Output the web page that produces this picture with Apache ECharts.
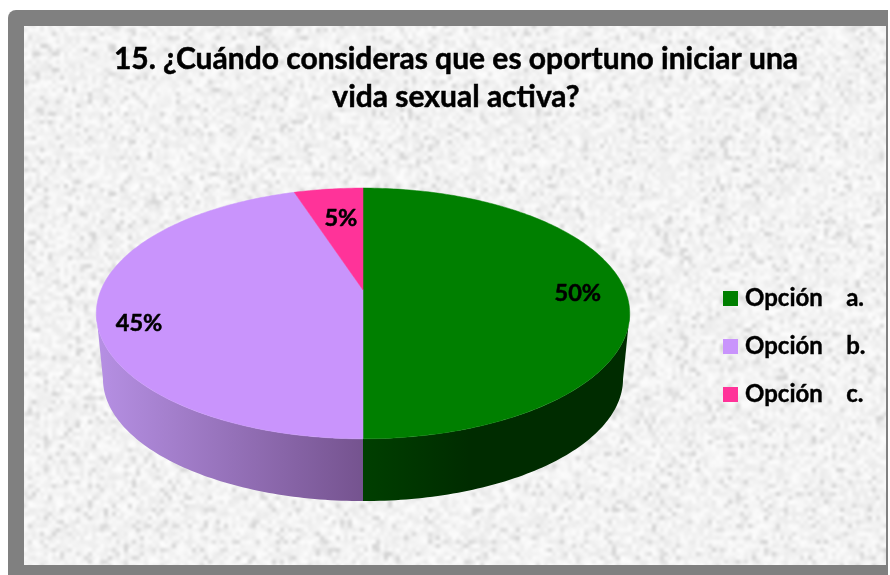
<!DOCTYPE html>
<html>
<head>
<meta charset="utf-8">
<script src="https://cdn.jsdelivr.net/npm/echarts@6/dist/echarts.min.js"></script>
<style>html,body{margin:0;padding:0;background:#fff}#c{width:890px;height:575px}</style>
</head>
<body>
<div id="c"></div>
<script>
const categories = ['Opción    a.', 'Opción    b.', 'Opción    c.'];
const values = [50, 45, 5];
const titleText = '15. ¿Cuándo consideras que es oportuno iniciar una\nvida sexual activa?';

const colors = ['#007f00', '#c994fc', '#ff3399'];
const wallStops = [['#003f00', '#002c00'], ['#75538f', '#b690e4'], ['#8f1f5c', '#8f1f5c']];

// perspective disc model
const HUB_X = 363, HUB_Y = 290, A = 262, B = 121, K = 0.187;
const LOW_Y = 356, LOW_S = 0.975, SIL = 100.8;
const labelFrac = [[0.82, 0.0, 3], [0.84, 0.84, 17], [0.64, 0.71, 0]];

function project(deg, hy, s) {
  const t = deg * Math.PI / 180, u = Math.sin(t), v = Math.cos(t), w = 1 + K * v;
  return [HUB_X + s * A * u / w, hy - s * B * v / w];
}
function arc(a0, a1, hy, s) {
  const pts = [], n = Math.max(2, Math.ceil(Math.abs(a1 - a0)));
  for (let i = 0; i <= n; i++) pts.push(project(a0 + (a1 - a0) * i / n, hy, s));
  return pts;
}
const total = values.reduce((a, b) => a + b, 0);
function sliceAngles(i) {
  let s = 0;
  for (let j = 0; j < i; j++) s += values[j];
  return [s / total * 360, (s + values[i]) / total * 360];
}

function makeTexture() {
  const S = 225, c = document.createElement('canvas');
  c.width = c.height = S;
  const x = c.getContext('2d'), img = x.createImageData(S, S);
  let seed = 12345;
  const rnd = () => (seed = (seed * 1664525 + 1013904223) >>> 0) / 4294967296;
  for (let i = 0; i < S * S; i++) {
    const r = rnd();
    const g = r < 0.1 ? 212 + rnd() * 16 : 234 + rnd() * 18;
    img.data[i * 4] = img.data[i * 4 + 1] = img.data[i * 4 + 2] = g;
    img.data[i * 4 + 3] = 255;
  }
  x.putImageData(img, 0, 0);
  const o = document.createElement('canvas');
  o.width = o.height = S * 4;
  const ox = o.getContext('2d');
  ox.imageSmoothingEnabled = true;
  ox.imageSmoothingQuality = 'high';
  ox.drawImage(c, 0, 0, S * 4, S * 4);
  return o;
}

const chart = echarts.init(document.getElementById('c'), null, { renderer: 'canvas' });

function renderSlice(i) {
  return function () {
    const [a0, a1] = sliceAngles(i);
    const children = [];
    const w0 = Math.max(a0, SIL), w1 = Math.min(a1, 360 - SIL);
    if (w1 > w0) {
      const pts = arc(w0, w1, HUB_Y, 1).concat(arc(w1, w0, LOW_Y, LOW_S));
      const fill = i === 0
        ? new echarts.graphic.LinearGradient(1, 0, 0, 0, [
            { offset: 0, color: wallStops[0][1] },
            { offset: 0.6, color: wallStops[0][1] },
            { offset: 1, color: wallStops[0][0] }
          ])
        : new echarts.graphic.LinearGradient(0, 0, 1, 0, [
            { offset: 0, color: wallStops[i][1] },
            { offset: 1, color: wallStops[i][0] }
          ]);
      children.push({ type: 'polygon', shape: { points: pts }, style: { fill } });
    }
    const sector = [[HUB_X, HUB_Y]].concat(arc(a0, a1, HUB_Y, 1));
    children.push({
      type: 'polygon', shape: { points: sector },
      style: { fill: colors[i], stroke: colors[i], lineWidth: 0.5 }
    });
    const rim = project((a0 + a1) / 2, HUB_Y, 1), f = labelFrac[i];
    children.push({
      type: 'text', z2: 10,
      x: HUB_X + (rim[0] - HUB_X) * f[0],
      y: HUB_Y + (rim[1] - HUB_Y) * f[1] + f[2],
      style: {
        text: Math.round(values[i] / total * 100) + '%',
        font: 'bold 23.5px Lato, "Noto Sans", sans-serif',
        fill: '#000', stroke: '#000', lineWidth: 0.5, align: 'center', verticalAlign: 'middle'
      }
    });
    return { type: 'group', children };
  };
}

chart.setOption({
  animation: false,
  backgroundColor: '#fff',
  graphic: [
    { type: 'rect', z: -10, silent: true, shape: { x: 8, y: 10, width: 880, height: 570, r: [8, 0, 0, 0] }, style: { fill: '#808080' } },
    { type: 'rect', z: -9, silent: true, shape: { x: 24, y: 26, width: 862, height: 539 }, style: { fill: { image: makeTexture(), repeat: 'repeat' } } }
  ],
  title: {
    text: titleText, left: 451, top: 35, textAlign: 'center',
    textStyle: {
      fontFamily: 'Lato, "Noto Sans", sans-serif', fontWeight: 'bold', fontSize: 30, lineHeight: 38, color: '#000',
      textBorderColor: '#000', textBorderWidth: 0.5
    }
  },
  legend: {
    orient: 'vertical', left: 718, top: 280, itemWidth: 15, itemHeight: 15, itemGap: 21,
    icon: 'rect', selectedMode: false, data: categories,
    textStyle: {
      fontFamily: 'Lato, "Noto Sans", sans-serif', fontWeight: 'bold', fontSize: 24, lineHeight: 27, color: '#000',
      textBorderColor: '#000', textBorderWidth: 0.4, padding: [0, 0, 0, 2]
    }
  },
  series: categories.map((name, i) => ({
    type: 'custom', name, coordinateSystem: 'none', silent: true,
    itemStyle: { color: colors[i] },
    data: [values[i]],
    renderItem: renderSlice(i)
  }))
});
</script>
</body>
</html>
